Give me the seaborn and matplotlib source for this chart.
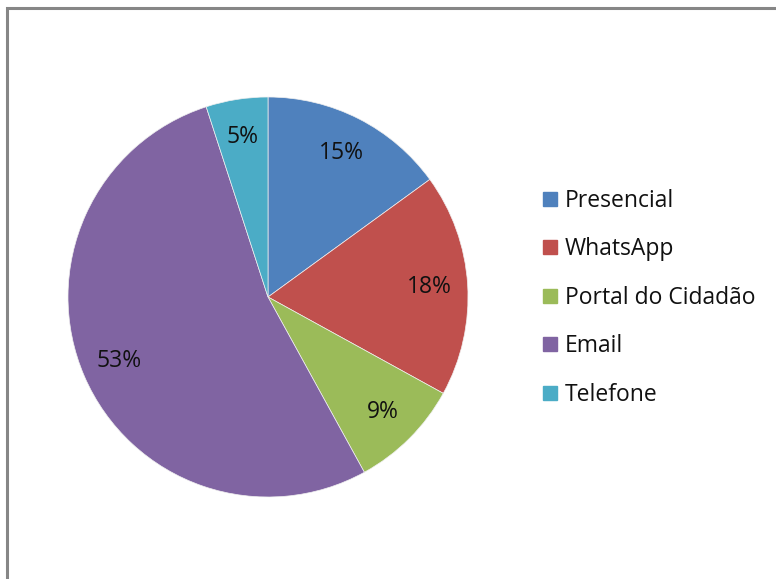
import matplotlib
matplotlib.use("Agg")
import matplotlib.pyplot as plt
from matplotlib.lines import Line2D
from matplotlib.patches import Rectangle
import seaborn as sns

categories = ["Presencial", "WhatsApp", "Portal do Cidadão", "Email", "Telefone"]
values = [15, 18, 9, 53, 5]
colors = ["#4F81BD", "#C0504D", "#9BBB59", "#8064A2", "#4BACC6"]

sns.set_theme(style="white")
plt.rcParams["font.family"] = ["Open Sans", "DejaVu Sans"]

W, H = 776, 579
fig = plt.figure(figsize=(W / 100, H / 100), dpi=100)
fig.patch.set_facecolor("white")

# chart border
fig.patches.append(Rectangle((7 / W, -0.05), 1.2, (H - 8) / H + 0.05,
                             transform=fig.transFigure, fill=False,
                             edgecolor="#868686", linewidth=2.2))

cx, cy, r = 268, 297, 200
ax = fig.add_axes([(cx - r) / W, (H - cy - r) / H, 2 * r / W, 2 * r / H])
wedges, texts, autotexts = ax.pie(
    values, colors=colors, startangle=90, counterclock=False,
    autopct=lambda p: f"{p:.0f}%", pctdistance=0.81, radius=1,
    wedgeprops=dict(linewidth=0.5, edgecolor="#f0f0f0"),
    textprops=dict(fontsize=16.5, color="#111111"))
ax.set_xlim(-1, 1)
ax.set_ylim(-1, 1)
ax.set_aspect("equal")
ax.axis("off")

handles = [Line2D([], [], marker="s", linestyle="", markersize=10,
                  markerfacecolor=c, markeredgecolor=c) for c in colors]
fig.legend(handles, categories, loc="upper left",
           bbox_to_anchor=(518 / W, (H - 168) / H), frameon=False,
           fontsize=16.5, labelspacing=1.07, handletextpad=0.15,
           handlelength=1.0, labelcolor="#111111")

fig.savefig("out.png", dpi=100, facecolor="white")
